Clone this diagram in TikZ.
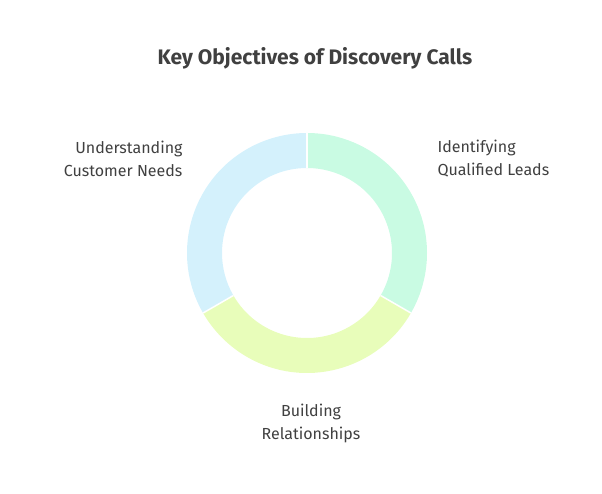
\documentclass[tikz,border=0pt]{standalone}
\usepackage{fontspec}
\setmainfont{Fira Sans}
\usetikzlibrary{positioning}
\definecolor{segg}{RGB}{201,251,227}
\definecolor{segy}{RGB}{232,253,186}
\definecolor{segb}{RGB}{212,241,252}
\definecolor{txt}{RGB}{64,64,64}

\begin{document}
\begin{tikzpicture}[
    x=1pt, y=-1pt,
    seg/.style={
        draw=white, line width=1.5pt
    },
    lab/.style={
        color=txt, font=\fontsize{16}{23}\selectfont,
        align=left
    },
    ttl/.style={
        color=txt, font=\fontsize{21}{24}\selectfont\bfseries
    }
]
    \useasboundingbox (0,0) rectangle (602,494);

    \coordinate (c) at (307,253);
    \fill [segg] (c) ++(0,-120) arc [start angle=-90, end angle=30, radius=120]
        -- ++(30:-35) arc [start angle=30, end angle=-90, radius=85] -- cycle;
    \fill [segy] (c) ++(30:120) arc [start angle=30, end angle=150, radius=120]
        -- ++(150:-35) arc [start angle=150, end angle=30, radius=85] -- cycle;
    \fill [segb] (c) ++(150:120) arc [start angle=150, end angle=270, radius=120]
        -- ++(0,35) arc [start angle=270, end angle=150, radius=85] -- cycle;
    \draw [seg] (c) ++(0,-120) -- ++(0,35);
    \draw [seg] (c) ++(30:120) -- ++(30:-35);
    \draw [seg] (c) ++(150:120) -- ++(150:-35);

    \node [ttl] (title) at (315,58) {Key Objectives of Discovery Calls};
    \node [lab, align=right, anchor=east] (needs) at (186,159) {Understanding\\Customer Needs};
    \node [lab, anchor=west] (leads) at (434,159) {Identifying\\Qualified Leads};
    \node [lab, align=center] (rel) at (311,423) {Building\\Relationships};
\end{tikzpicture}
\end{document}
